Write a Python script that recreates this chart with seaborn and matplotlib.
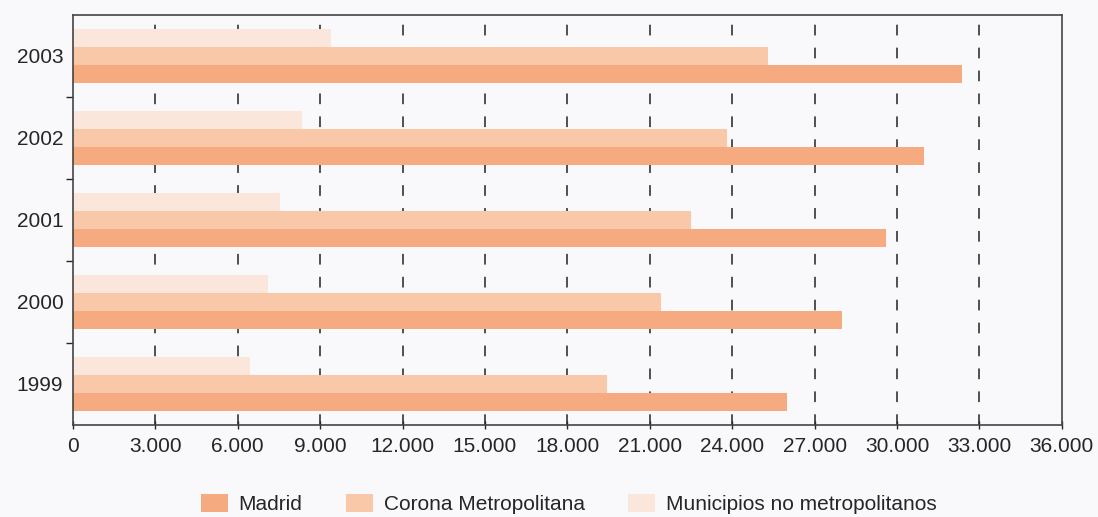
import pandas as pd
import matplotlib.pyplot as plt
import matplotlib.ticker as mticker
from matplotlib.patches import Patch
import seaborn as sns

# values
years = ['2003', '2002', '2001', '2000', '1999']
madrid = [32350, 31000, 29600, 28000, 26000]
corona = [25300, 23800, 22500, 21400, 19450]
municipios = [9400, 8350, 7550, 7100, 6450]
series_names = ['Madrid', 'Corona Metropolitana', 'Municipios no metropolitanos']
colors = ['#f5aa80', '#f9c8a8', '#fbe6db']
x_ticks = list(range(0, 36001, 3000))

rows = []
for i, y in enumerate(years):
    rows.append({'year': y, 'serie': series_names[2], 'valor': municipios[i]})
    rows.append({'year': y, 'serie': series_names[1], 'valor': corona[i]})
    rows.append({'year': y, 'serie': series_names[0], 'valor': madrid[i]})
df = pd.DataFrame(rows)

sns.set_style('white')
plt.rcParams['font.family'] = ['Liberation Sans', 'DejaVu Sans']

fig = plt.figure(figsize=(10.98, 5.17), dpi=100)
fig.patch.set_facecolor('#f9f9fb')
ax = fig.add_axes([0.0665, 0.178, 0.9005, 0.793])
ax.set_facecolor('#f9f9fb')

hue_order = [series_names[2], series_names[1], series_names[0]]
palette = {series_names[0]: colors[0], series_names[1]: colors[1], series_names[2]: colors[2]}
sns.barplot(data=df, y='year', x='valor', hue='serie', order=years, hue_order=hue_order,
            palette=palette, orient='h', width=0.66, gap=0, saturation=1,
            linewidth=0, ax=ax, legend=False)

ax.set_xlim(0, 36000)
ax.set_ylim(4.5, -0.5)
ax.set_xticks(x_ticks)
ax.xaxis.set_major_formatter(mticker.FuncFormatter(lambda v, p: f'{int(v):,}'.replace(',', '.')))
ax.set_xlabel('')
ax.set_ylabel('')

# dashed vertical grid
for v in x_ticks[1:-1]:
    ax.axvline(v, color='#222222', linestyle=(0, (7, 8)), linewidth=1.1, zorder=0)

# ticks between year groups
ax.set_yticks([0.5, 1.5, 2.5, 3.5], minor=True)
ax.tick_params(axis='y', which='major', length=0, labelsize=15, pad=7)
ax.tick_params(axis='y', which='minor', length=5, width=1, direction='out', left=True)
ax.tick_params(axis='x', which='major', length=6, width=1, direction='inout', bottom=True,
               labelsize=15, pad=6)

for s in ax.spines.values():
    s.set_visible(True)
    s.set_color('#444444')
    s.set_linewidth(1.2)

handles = [Patch(facecolor=c, edgecolor='none') for c in colors]
fig.legend(handles, series_names, loc='center', bbox_to_anchor=(0.518, 0.025), ncol=3,
           frameon=False, fontsize=15, handlelength=1.3, handleheight=1.0,
           columnspacing=2.1, handletextpad=0.5)

fig.savefig('out.png', dpi=100, facecolor=fig.get_facecolor())
